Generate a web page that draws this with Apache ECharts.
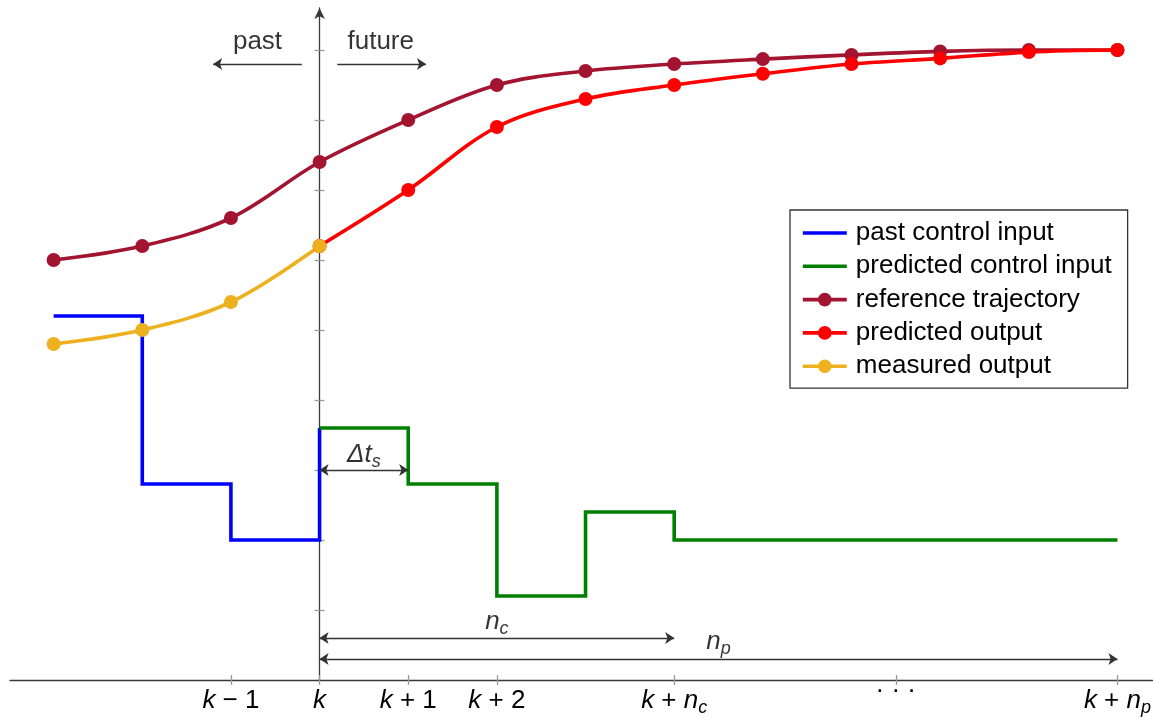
<!DOCTYPE html>
<html>
<head>
<meta charset="utf-8">
<script src="https://cdn.jsdelivr.net/npm/echarts@6/dist/echarts.min.js"></script>
<style>
  html, body { margin: 0; padding: 0; background: #fff; }
  #chart { width: 1154px; height: 720px; }
</style>
</head>
<body>
<div id="chart"></div>
<script>
// Sampling instants, counted relative to the current instant k
const referenceInstants = [-3, -2, -1, 0, 1, 2, 3, 4, 5, 6, 7, 8, 9];
const predictionInstants = [0, 1, 2, 3, 4, 5, 6, 7, 8, 9];
const measuredInstants = [-3, -2, -1, 0];
const pastInputInstants = [-3, -2, -1, 0];
const controlInstants = [0, 1, 2, 3, 4, 9];

// Signal values
const referenceTrajectory = [6.0, 6.2, 6.6, 7.4, 8.0, 8.5, 8.7, 8.8, 8.87, 8.93, 8.98, 9.0, 9.0];
const predictedOutput = [6.2, 7.0, 7.9, 8.3, 8.5, 8.66, 8.8, 8.88, 8.97, 9.0];
const measuredOutput = [4.8, 5.0, 5.4, 6.2];
const pastControlInput = [5.2, 2.8, 2.0, 3.6];
const predictedControlInput = [3.6, 2.8, 1.2, 2.4, 2.0, 2.0];

// Axis ticks and their labels
const xTickValues = [-1, 0, 1, 2, 4, 6.5, 9];
const xTickLabels = ['{i|k} − 1', '{i|k}', '{i|k} + 1', '{i|k} + 2', '{i|k} + {i|n}{sub|c}', '{dots|· · ·}', '{i|k} + {i|n}{sub|p}'];
const yTickValues = [1, 2, 3, 4, 5, 6, 7, 8, 9];

const seriesNames = ['past control input', 'predicted control input', 'reference trajectory', 'predicted output', 'measured output'];

const FONT = 'Liberation Sans';
const rich = {
  i: { fontStyle: 'italic', fontSize: 26, fontFamily: FONT, color: '#000' },
  sub: { fontStyle: 'italic', fontSize: 18, fontFamily: FONT, color: '#000', lineHeight: 12, padding: [14, 0, 0, 0] },
  dots: { fontSize: 26, fontFamily: FONT, color: '#000', lineHeight: 16, padding: [0, 0, 10, 0] }
};

const zip = (xs, ys) => xs.map((x, i) => [x, ys[i]]);

const chart = echarts.init(document.getElementById('chart'), null, { renderer: 'canvas' });

const axisColor = '#3a3a3a';
const tickColor = '#9a9a9a';
const LINE_W = 3.6;

function markerLine(name, xs, ys, color) {
  return {
    name, type: 'line', data: zip(xs, ys),
    smooth: 0.35, symbol: 'circle', symbolSize: 14, showSymbol: true,
    lineStyle: { color, width: LINE_W }, itemStyle: { color },
    emphasis: { disabled: true }
  };
}
function stepLine(name, xs, ys, color) {
  return {
    name, type: 'line', data: zip(xs, ys), step: 'end',
    symbol: 'none', lineStyle: { color, width: LINE_W, join: 'miter', cap: 'butt' },
    itemStyle: { color }, emphasis: { disabled: true }
  };
}

const option = {
  animation: false,
  backgroundColor: '#fff',
  grid: { left: 10, right: 0, top: 8, bottom: 40 },
  xAxis: [
    {
      type: 'value', min: -3.492, max: 9.395,
      axisLine: { show: true, onZero: true, lineStyle: { color: axisColor, width: 1.3 } },
      axisTick: { show: true, customValues: xTickValues, length: 5, lineStyle: { color: tickColor, width: 1.3 } },
      axisLabel: {
        show: true, customValues: xTickValues, margin: 8,
        fontSize: 26, fontFamily: FONT, color: '#000', rich,
        formatter: v => xTickLabels[xTickValues.indexOf(v)] || ''
      },
      splitLine: { show: false }
    },
    {
      type: 'value', min: -3.492, max: 9.395, position: 'bottom',
      axisLine: { show: false, onZero: true },
      axisTick: { show: true, inside: true, customValues: xTickValues, length: 5, lineStyle: { color: tickColor, width: 1.3 } },
      axisLabel: { show: false }, splitLine: { show: false }
    }
  ],
  yAxis: [
    {
      type: 'value', min: 0, max: 9.6, position: 'left',
      axisLine: { show: true, onZero: true, symbol: ['none', 'arrow'], symbolSize: [8, 11], lineStyle: { color: axisColor, width: 1.3 } },
      axisTick: { show: true, customValues: yTickValues, length: 5, lineStyle: { color: tickColor, width: 1.3 } },
      axisLabel: { show: false }, splitLine: { show: false }
    },
    {
      type: 'value', min: 0, max: 9.6, position: 'left',
      axisLine: { show: false, onZero: true },
      axisTick: { show: true, inside: true, customValues: yTickValues, length: 5, lineStyle: { color: tickColor, width: 1.3 } },
      axisLabel: { show: false }, splitLine: { show: false }
    }
  ],
  legend: {
    orient: 'vertical', left: 790, top: 210,
    padding: [10, 16, 9, 11],
    borderColor: '#333', borderWidth: 1.3, backgroundColor: '#fff',
    itemWidth: 44, itemHeight: 17, itemGap: 7.3,
    selectedMode: false,
    textStyle: { fontSize: 26, fontFamily: FONT, color: '#000', lineHeight: 26, padding: [0, 0, 0, 4] },
    data: [
      { name: seriesNames[0], itemStyle: { opacity: 0 }, lineStyle: { width: LINE_W } },
      { name: seriesNames[1], itemStyle: { opacity: 0 }, lineStyle: { width: LINE_W } },
      { name: seriesNames[2], lineStyle: { width: LINE_W } },
      { name: seriesNames[3], lineStyle: { width: LINE_W } },
      { name: seriesNames[4], lineStyle: { width: LINE_W } }
    ]
  },
  series: [
    stepLine(seriesNames[0], pastInputInstants, pastControlInput, '#0000ff'),
    stepLine(seriesNames[1], controlInstants, predictedControlInput, '#008000'),
    markerLine(seriesNames[2], referenceInstants, referenceTrajectory, '#a2142f'),
    markerLine(seriesNames[3], predictionInstants, predictedOutput, '#ff0000'),
    markerLine(seriesNames[4], measuredInstants, measuredOutput, '#edb120'),
    {
      // one-way arrows: past / future
      type: 'lines', coordinateSystem: 'cartesian2d', polyline: false,
      symbol: ['none', 'arrow'], symbolSize: 9,
      lineStyle: { color: '#333', width: 1.3, opacity: 1 },
      data: [
        { coords: [[-0.2, 8.8], [-1.2, 8.8]] },
        { coords: [[0.2, 8.8], [1.2, 8.8]] }
      ],
      z: 5
    },
    {
      // two-way arrows: sample time, control and prediction horizons
      type: 'lines', coordinateSystem: 'cartesian2d', polyline: false,
      symbol: ['arrow', 'arrow'], symbolSize: 9,
      lineStyle: { color: '#333', width: 1.3, opacity: 1 },
      data: [
        { coords: [[0, 3.0], [1, 3.0]] },
        { coords: [[0, 0.6], [4, 0.6]] },
        { coords: [[0, 0.3], [9, 0.3]] }
      ],
      z: 5
    },
    {
      // text annotations
      type: 'scatter', symbolSize: 0, itemStyle: { color: 'transparent' },
      emphasis: { disabled: true }, z: 6,
      label: {
        show: true, position: 'inside', align: 'center', verticalAlign: 'middle',
        fontSize: 26, fontFamily: FONT, color: '#000', rich,
        formatter: p => p.data[2]
      },
      data: [
        [-0.7, 9.11, 'past'],
        [0.69, 9.11, 'future'],
        [0.5, 3.22, '{i|Δt}{sub|s}'],
        [2.0, 0.83, '{i|n}{sub|c}'],
        [4.5, 0.55, '{i|n}{sub|p}']
      ]
    }
  ]
};

chart.setOption(option);
</script>
</body>
</html>
